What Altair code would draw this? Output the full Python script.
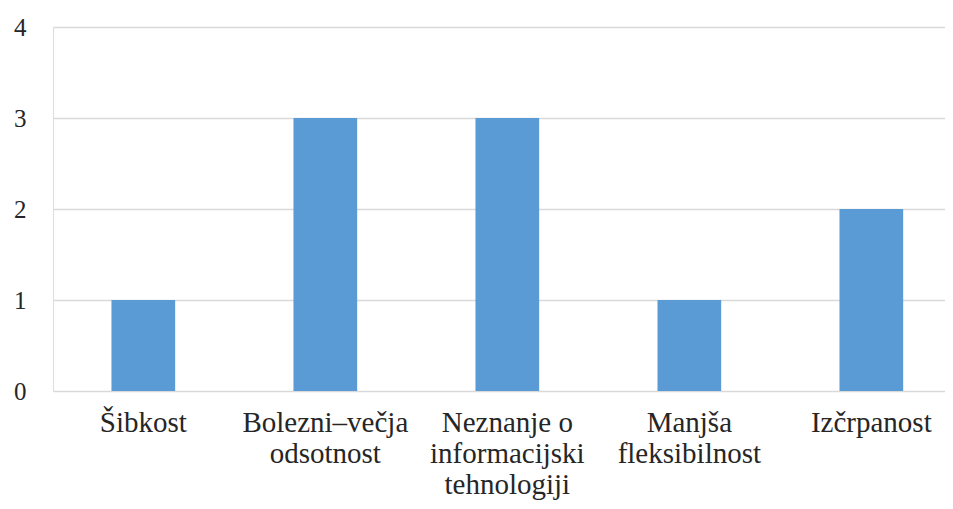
import altair as alt
import pandas as pd

categories = ["Šibkost", "Bolezni–večja\nodsotnost", "Neznanje o\ninformacijski\ntehnologiji",
              "Manjša\nfleksibilnost", "Izčrpanost"]
values = [1, 3, 3, 1, 2]
y_ticks = [0, 1, 2, 3, 4]

df = pd.DataFrame({"category": categories, "value": values})

FONT = "Liberation Serif"

chart = alt.Chart(df).mark_bar(color="#5B9BD5").encode(
    x=alt.X("category:N", sort=categories,
            scale=alt.Scale(paddingInner=0.65, paddingOuter=0.2755, align=0.583),
            axis=alt.Axis(title=None, labelAngle=0, ticks=False, domain=False,
                          labelExpr="split(datum.label, '\\n')",
                          labelFont=FONT, labelFontSize=29, labelColor="#262626",
                          labelLineHeight=31, labelPadding=17, labelBaseline="top")),
    y=alt.Y("value:Q", scale=alt.Scale(domain=[0, 4]),
            axis=alt.Axis(title=None, values=y_ticks, ticks=False, domain=False,
                          labelFont=FONT, labelFontSize=25, labelColor="#262626",
                          labelPadding=27, gridColor="#d9d9d9", gridWidth=1.5)),
).properties(
    width=892, height=364,
    autosize=alt.AutoSizeParams(type="none"),
    padding={"left": 45, "top": 19, "right": 0, "bottom": 110},
).configure_view(stroke=None).configure(background="white")

chart.save("out.html", embed_options={"renderer": "svg", "actions": False})
